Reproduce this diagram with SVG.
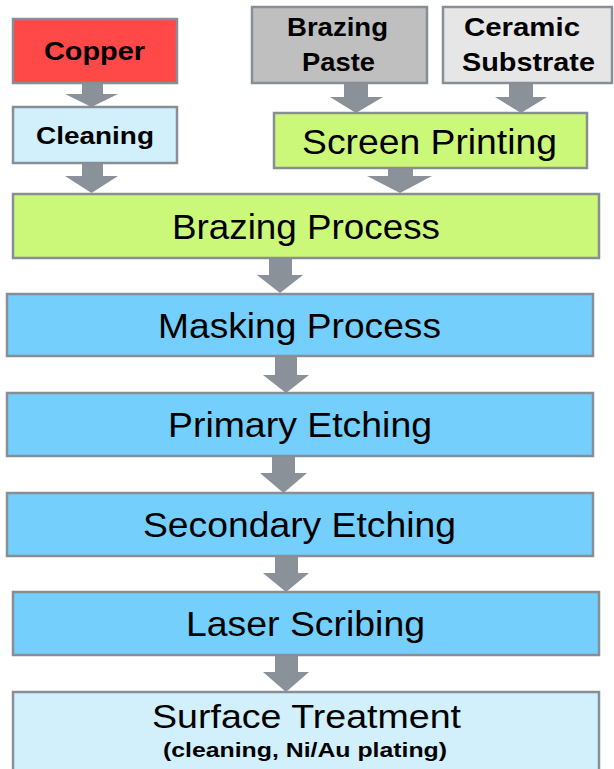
<svg xmlns="http://www.w3.org/2000/svg" width="614" height="769" viewBox="0 0 614 769">
  <style>
    .box { stroke: #878e95; stroke-width: 2.5; }
    .arrow { fill: #8a9198; }
    .b { font-family: "Liberation Sans", Arial, sans-serif; font-weight: bold; fill: #000; text-anchor: middle; }
    .r { font-family: "Liberation Sans", Arial, sans-serif; fill: #000; text-anchor: middle; }
  </style>
  <rect width="614" height="769" fill="#fff"/>

  <!-- block arrows between steps -->
  <g id="connectors" class="arrow">
    <path d="M82,83 H103 V94 H118 L91.5,107 L65,94 H82 Z"/>
    <path d="M82,163 H103 V176 H118 L91.5,193 L65,176 H82 Z"/>
    <path d="M344,83 H368 V97 H383 L356,113 L330,97 H344 Z"/>
    <path d="M509,83 H533 V97 H547 L521,113 L495,97 H509 Z"/>
    <path d="M388,168 H413 V176 H432 L400,193 L367,176 H388 Z"/>
    <path d="M269,258 H292 V275 H303 L280,293 L257,275 H269 Z"/>
    <path d="M275,356 H297 V375 H309 L286,393 L263,375 H275 Z"/>
    <path d="M272,456 H295 V473 H307 L283.5,493 L260,473 H272 Z"/>
    <path d="M275,556 H298 V573 H309 L286,592 L263,573 H275 Z"/>
    <path d="M275,655 H298 V672 H309 L286,692 L263,672 H275 Z"/>
  </g>

  <g id="copper">
    <rect class="box" x="13" y="19" width="164" height="64" fill="#ff4848"/>
    <text class="b" x="94.5" y="60" font-size="26" textLength="101" lengthAdjust="spacingAndGlyphs">Copper</text>
  </g>
  <g id="cleaning">
    <rect class="box" x="13" y="107" width="164" height="56" fill="#d2effc"/>
    <text class="b" x="95" y="144" font-size="24" textLength="118" lengthAdjust="spacingAndGlyphs">Cleaning</text>
  </g>
  <g id="brazing-paste">
    <rect class="box" x="252" y="7" width="175" height="76" fill="#bfbfbf"/>
    <text class="b" x="337.5" y="36" font-size="25" textLength="101" lengthAdjust="spacingAndGlyphs">Brazing</text>
    <text class="b" x="338.5" y="71" font-size="25" textLength="73" lengthAdjust="spacingAndGlyphs">Paste</text>
  </g>
  <g id="ceramic-substrate">
    <rect class="box" x="443" y="7" width="169" height="76" fill="#e6e6e6"/>
    <text class="b" x="522" y="36" font-size="25" textLength="116" lengthAdjust="spacingAndGlyphs">Ceramic</text>
    <text class="b" x="528.5" y="71" font-size="25" textLength="133" lengthAdjust="spacingAndGlyphs">Substrate</text>
  </g>
  <g id="screen-printing">
    <rect class="box" x="274" y="113" width="313" height="55" fill="#ccf87a"/>
    <text class="r" x="429.5" y="154" font-size="35" textLength="255" lengthAdjust="spacingAndGlyphs">Screen Printing</text>
  </g>
  <g id="brazing-process">
    <rect class="box" x="13" y="194" width="586" height="64" fill="#ccf87a"/>
    <text class="r" x="306" y="239" font-size="35" textLength="268" lengthAdjust="spacingAndGlyphs">Brazing Process</text>
  </g>
  <g id="masking-process">
    <rect class="box" x="7" y="294" width="586" height="62" fill="#74cffc"/>
    <text class="r" x="299.5" y="338" font-size="35" textLength="283" lengthAdjust="spacingAndGlyphs">Masking Process</text>
  </g>
  <g id="primary-etching">
    <rect class="box" x="7" y="393" width="586" height="63" fill="#74cffc"/>
    <text class="r" x="300" y="437" font-size="35" textLength="264" lengthAdjust="spacingAndGlyphs">Primary Etching</text>
  </g>
  <g id="secondary-etching">
    <rect class="box" x="7" y="493" width="586" height="63" fill="#74cffc"/>
    <text class="r" x="299.5" y="537" font-size="35" textLength="313" lengthAdjust="spacingAndGlyphs">Secondary Etching</text>
  </g>
  <g id="laser-scribing">
    <rect class="box" x="13" y="592" width="586" height="63" fill="#74cffc"/>
    <text class="r" x="305.5" y="636" font-size="35" textLength="239" lengthAdjust="spacingAndGlyphs">Laser Scribing</text>
  </g>
  <g id="surface-treatment">
    <rect class="box" x="13" y="692" width="586" height="90" fill="#d2effc"/>
    <text class="r" x="306.5" y="728" font-size="34" textLength="309" lengthAdjust="spacingAndGlyphs">Surface Treatment</text>
    <text class="b" x="305" y="757" font-size="20" textLength="284" lengthAdjust="spacingAndGlyphs">(cleaning, Ni/Au plating)</text>
  </g>
</svg>
